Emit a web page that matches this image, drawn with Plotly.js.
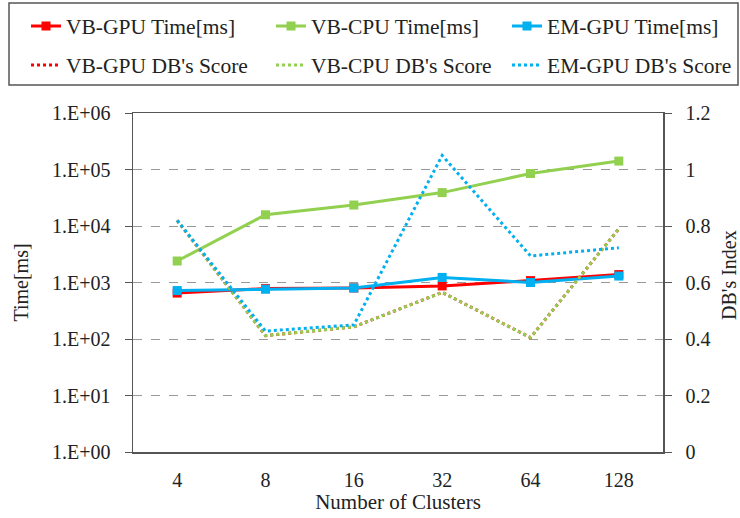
<!DOCTYPE html>
<html>
<head>
<meta charset="utf-8">
<script src="https://cdn.plot.ly/plotly-3.0.1.min.js"></script>
<style>html,body{margin:0;padding:0;background:#fff;}#chart{width:740px;height:518px;}</style>
</head>
<body>
<div id="chart"></div>
<script>
const clusters = ["4", "8", "16", "32", "64", "128"];
const vbGpuTime = [650, 780, 800, 870, 1080, 1380];
const vbCpuTime = [2400, 15800, 23500, 39000, 85000, 141000];
const emGpuTime = [720, 760, 800, 1230, 1000, 1300];
const vbGpuDB = [0.82, 0.412, 0.443, 0.565, 0.405, 0.79];
const vbCpuDB = [0.82, 0.412, 0.443, 0.565, 0.405, 0.79];
const emGpuDB = [0.82, 0.428, 0.45, 1.05, 0.694, 0.723];
const leftTickVals = [1, 10, 100, 1000, 10000, 100000, 1000000];
const leftTickText = ["1.E+00", "1.E+01", "1.E+02", "1.E+03", "1.E+04", "1.E+05", "1.E+06"];
const rightTickVals = [0, 0.2, 0.4, 0.6, 0.8, 1, 1.2];
const rightTickText = ["0", "0.2", "0.4", "0.6", "0.8", "1", "1.2"];

const RED = "#ff0000", GREEN = "#92d050", BLUE = "#00b0f0";
const FONT = "Liberation Serif, Times New Roman, serif";

function timeTrace(name, y, color, leg) {
  return {x: clusters, y: y, name: name, type: "scatter", mode: "lines+markers",
    line: {color: color, width: 3}, marker: {symbol: "square", size: 9, color: color},
    yaxis: "y", legend: leg};
}
function dbTrace(name, y, color, leg) {
  return {x: clusters, y: y, name: name, type: "scatter", mode: "lines",
    line: {color: color, width: 3, dash: "dot"}, yaxis: "y2", legend: leg};
}

const data = [
  timeTrace("VB-GPU Time[ms]", vbGpuTime, RED, "legend"),
  timeTrace("VB-CPU Time[ms]", vbCpuTime, GREEN, "legend2"),
  timeTrace("EM-GPU Time[ms]", emGpuTime, BLUE, "legend3"),
  dbTrace("VB-GPU DB's Score", vbGpuDB, RED, "legend4"),
  dbTrace("VB-CPU DB's Score", vbCpuDB, GREEN, "legend5"),
  dbTrace("EM-GPU DB's Score", emGpuDB, BLUE, "legend6")
];

function leg(xpx, ypx) {
  return {
    orientation: "h", xref: "container", yref: "container", xanchor: "left", yanchor: "middle",
    x: xpx / 740, y: 1 - ypx / 518,
    font: {family: FONT, size: 21.5, color: "#222"},
    bgcolor: "rgba(0,0,0,0)", borderwidth: 0
  };
}

const layout = {
  width: 740, height: 518,
  margin: {l: 133, r: 77, t: 113, b: 66},
  paper_bgcolor: "#fff", plot_bgcolor: "#fff",
  font: {family: FONT, size: 20, color: "#222"},
  showlegend: true,
  legend: leg(26, 26), legend2: leg(271, 26), legend3: leg(507, 26),
  legend4: leg(26, 65), legend5: leg(271, 65), legend6: leg(507, 65),
  xaxis: {
    type: "category", range: [-0.5, 5.5], showgrid: false, zeroline: false,
    showline: true, linecolor: "#555", linewidth: 1.5, mirror: true, ticks: "",
    ticklabelstandoff: 9,
    tickfont: {family: FONT, size: 20, color: "#222"},
    title: {text: "Number of Clusters", font: {family: FONT, size: 21, color: "#222"}, standoff: 2}
  },
  yaxis: {
    type: "log", range: [0, 6], tickvals: leftTickVals, ticktext: leftTickText,
    showgrid: true, gridcolor: "#999", griddash: "dash", gridwidth: 1,
    showline: true, linecolor: "#555", linewidth: 1.5, ticks: "outside", ticklen: 7, tickcolor: "#555",
    zeroline: false, ticklabelstandoff: 10,
    tickfont: {family: FONT, size: 20, color: "#222"},
    title: {text: "Time[ms]", font: {family: FONT, size: 20, color: "#222"}, standoff: 18}
  },
  yaxis2: {
    overlaying: "y", side: "right", range: [0, 1.2], tickvals: rightTickVals, ticktext: rightTickText,
    showgrid: false, zeroline: false, showline: true, linecolor: "#555", linewidth: 1.5,
    ticks: "outside", ticklen: 7, tickcolor: "#555", ticklabelstandoff: 10,
    tickfont: {family: FONT, size: 20, color: "#222"}
  },
  annotations: [{
    text: "DB's Index", xref: "paper", yref: "paper", x: (729 - 133) / 530, y: (452 - 275) / 339,
    xanchor: "center", yanchor: "middle", textangle: -90, showarrow: false,
    font: {family: FONT, size: 20, color: "#222"}
  }],
  shapes: [{
    type: "rect", xref: "paper", yref: "paper",
    x0: (9 - 133) / 530, x1: (738 - 133) / 530,
    y0: (452 - 85) / 339, y1: (452 - 3) / 339,
    line: {color: "#555", width: 1.5}, fillcolor: "rgba(0,0,0,0)", layer: "above"
  }]
};

Plotly.newPlot("chart", data, layout, {displayModeBar: false, staticPlot: true});
</script>
</body>
</html>
